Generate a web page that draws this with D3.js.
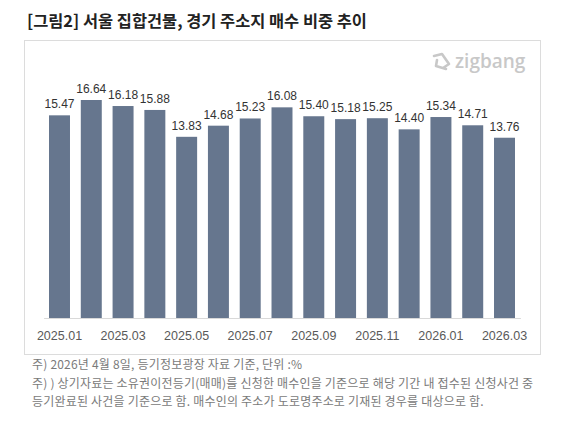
<!DOCTYPE html>
<html>
<head>
<meta charset="utf-8">
<script src="https://cdn.jsdelivr.net/npm/d3@7"></script>
<style>
  body { margin: 0; background: #fff; }
  svg { display: block; }
</style>
</head>
<body>
<div id="chart"></div>
<script>
// data
const months = ['2025.01', '2025.02', '2025.03', '2025.04', '2025.05', '2025.06', '2025.07', '2025.08',
                '2025.09', '2025.10', '2025.11', '2025.12', '2026.01', '2026.02', '2026.03']
const shares = [15.47, 16.64, 16.18, 15.88, 13.83, 14.68, 15.23, 16.08, 15.40, 15.18, 15.25, 14.40, 15.34, 14.71, 13.76]
const tickLabels = ['2025.01', '2025.03', '2025.05', '2025.07', '2025.09', '2025.11', '2026.01', '2026.03']

const titleText = '[그림2] 서울 집합건물, 경기 주소지 매수 비중 추이'
const notes = [
    '주) 2026년 4월 8일, 등기정보광장 자료 기준, 단위 :%',
    '주) ) 상기자료는 소유권이전등기(매매)를 신청한 매수인을 기준으로 해당 기간 내 접수된 신청사건 중',
    '등기완료된 사건을 기준으로 함. 매수인의 주소가 도로명주소로 기재된 경우를 대상으로 함.'
]

const width = 574
const height = 426
const kr = '"Noto Sans CJK KR", "Noto Sans", sans-serif'
const num = '"Liberation Sans", Arial, sans-serif'

const svg = d3.select('#chart').append('svg')
    .attr('width', width)
    .attr('height', height)

svg.append('text')
    .text(titleText)
    .attr('x', 27)
    .attr('y', 27)
    .style('font-family', kr)
    .style('font-weight', 'bold')
    .style('font-size', '16.4px')
    .style('fill', '#222')

// frame of the chart
svg.append('rect')
    .attr('x', 24.5)
    .attr('y', 40.5)
    .attr('width', 516)
    .attr('height', 314)
    .attr('fill', '#fff')
    .attr('stroke', '#dcdcdc')

// zigbang mark
const logo = svg.append('g').attr('transform', 'translate(433, 62)')
logo.append('path')
    .attr('d', 'M1,-6 L9,-8 L16,2 L10,6 M4,-2 L3,4 L13,7')
    .attr('fill', 'none')
    .attr('stroke', '#c8c8c8')
    .attr('stroke-width', 2.6)
    .attr('stroke-linecap', 'round')
    .attr('stroke-linejoin', 'round')
logo.append('text')
    .text('zigbang')
    .attr('x', 22)
    .attr('y', 6)
    .style('font-family', '"Open Sans", sans-serif')
    .style('font-weight', '600')
    .style('font-size', '19px')
    .style('fill', '#c8c8c8')

const x = d3.scaleBand()
    .domain(months)
    .range([43.6, 520.4])
    .paddingInner(0.34)
    .paddingOuter(0.17)

const y = d3.scaleLinear()
    .domain([0, 16.64])
    .range([318, 100])

svg.append('g')
    .selectAll('rect')
    .data(shares)
    .enter()
    .append('rect')
        .attr('x', (d, i) => x(months[i]))
        .attr('y', d => y(d))
        .attr('width', x.bandwidth())
        .attr('height', d => y(0) - y(d))
        .style('fill', '#66768e')

svg.append('g')
    .selectAll('text')
    .data(shares)
    .enter()
    .append('text')
        .text(d => d.toFixed(2))
        .attr('x', (d, i) => x(months[i]) + x.bandwidth() / 2)
        .attr('y', d => y(d) - 7)
        .attr('text-anchor', 'middle')
        .style('font-family', num)
        .style('font-size', '12px')
        .style('fill', '#333')

// baseline and month labels
const xAxis = d3.axisBottom(x)
    .tickValues(tickLabels)
    .tickSize(0)
    .tickPadding(13)

const axisG = svg.append('g')
    .attr('transform', `translate(0, ${y(0)})`)
    .call(xAxis)

axisG.select('.domain').attr('stroke', '#d9d9d9')
axisG.selectAll('text')
    .style('font-family', num)
    .style('font-size', '12.5px')
    .style('fill', '#595959')

svg.append('g')
    .selectAll('text')
    .data(notes)
    .enter()
    .append('text')
        .text(d => d)
        .attr('x', 32)
        .attr('y', (d, i) => 369 + i * 18.5)
        .style('font-family', kr)
        .style('font-size', '12px')
        .style('letter-spacing', '0.2px')
        .style('fill', '#7a7a7a')
</script>
</body>
</html>
